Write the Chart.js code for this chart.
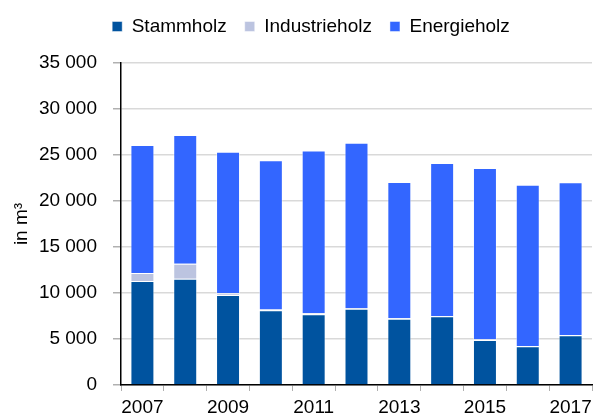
<!DOCTYPE html>
<html>
<head>
<meta charset="utf-8">
<script src="https://cdn.jsdelivr.net/npm/chart.js@4"></script>
<style>
  html, body { margin: 0; padding: 0; background: #fff; }
  #wrap { width: 600px; height: 416px; position: relative; }
</style>
</head>
<body>
<div id="wrap"><canvas id="holzChart"></canvas></div>
<script>
// Werte (in m3)
const years = ["2007", "2008", "2009", "2010", "2011", "2012", "2013", "2014", "2015", "2016", "2017"];
const stammholz = [11300, 11550, 9780, 8120, 7680, 8300, 7200, 7470, 4890, 4200, 5400];
const industrieholz = [870, 1630, 180, 100, 150, 60, 80, 40, 80, 30, 30];
const energieholz = [13920, 13990, 15400, 16200, 17670, 17980, 14790, 16620, 18620, 17540, 16600];
const yTicks = [0, 5000, 10000, 15000, 20000, 25000, 30000, 35000];

Chart.defaults.font.family = "'Liberation Sans', Arial, sans-serif";
Chart.defaults.font.size = 19;
Chart.defaults.color = '#000';

const fmt = v => String(v).replace(/\B(?=(\d{3})+(?!\d))/g, ' ');

// Legende: Hoehe fest, damit die Zeichenflaeche bei y=63 beginnt, und leicht nach rechts schieben
const legendTweak = {
  id: 'legendTweak',
  afterInit(chart) {
    const lg = chart.legend;
    if (!lg || lg._tweaked) return;
    const fit = lg.fit.bind(lg);
    lg.fit = function () { fit(); this.height = 64; };
    lg._tweaked = true;
  },
  afterLayout(chart) {
    const lg = chart.legend;
    if (lg) { lg.left += 10; lg.right += 10; }
  }
};

const ctx = document.getElementById('holzChart').getContext('2d');
new Chart(ctx, {
  type: 'bar',
  data: {
    labels: years,
    datasets: [{
      label: 'Stammholz',
      data: stammholz,
      backgroundColor: '#00539F',
      borderColor: 'rgba(255,255,255,0.45)',
      borderWidth: 1,
    }, {
      label: 'Industrieholz',
      data: industrieholz,
      backgroundColor: '#BCC4E0',
      borderColor: 'rgba(255,255,255,0.45)',
      borderWidth: 1,
    }, {
      label: 'Energieholz',
      data: energieholz,
      backgroundColor: '#3366FF',
      borderColor: 'rgba(255,255,255,0.45)',
      borderWidth: 1,
    }]
  },
  plugins: [legendTweak],
  options: {
    responsive: true,
    maintainAspectRatio: false,
    animation: false,
    layout: { padding: { left: 10, right: 8, top: -1, bottom: 0 } },
    plugins: {
      tooltip: { enabled: false },
      legend: {
        position: 'top',
        labels: {
          boxWidth: 10,
          boxHeight: 10,
          padding: 18,
          font: { size: 19 },
          color: '#000'
        }
      }
    },
    datasets: { bar: { categoryPercentage: 1, barPercentage: 0.56 } },
    scales: {
      x: {
        stacked: true,
        grid: {
          offset: true,
          drawOnChartArea: false,
          drawTicks: true,
          tickLength: 6,
          tickColor: '#b0b0b0'
        },
        border: { color: '#000', width: 1.5 },
        ticks: {
          maxRotation: 0,
          autoSkip: false,
          padding: 5,
          callback: function (val, i) { return i % 2 === 0 ? this.getLabelForValue(val) : ''; }
        },
        afterFit: s => { s.height = 31; }
      },
      y: {
        stacked: true,
        min: 0,
        max: 35000,
        afterBuildTicks: s => { s.ticks = yTicks.map(v => ({ value: v })); },
        grid: {
          color: '#d9d9d9',
          lineWidth: 1.5,
          tickLength: 8,
          tickColor: '#b0b0b0'
        },
        border: { color: '#000', width: 1.5 },
        ticks: {
          padding: 16,
          callback: v => fmt(v)
        },
        title: {
          display: true,
          text: 'in m³',
          font: { size: 19 },
          padding: { top: 0, bottom: 4 }
        },
        afterFit: s => { s.width = 111; }
      }
    }
  }
});
</script>
</body>
</html>
